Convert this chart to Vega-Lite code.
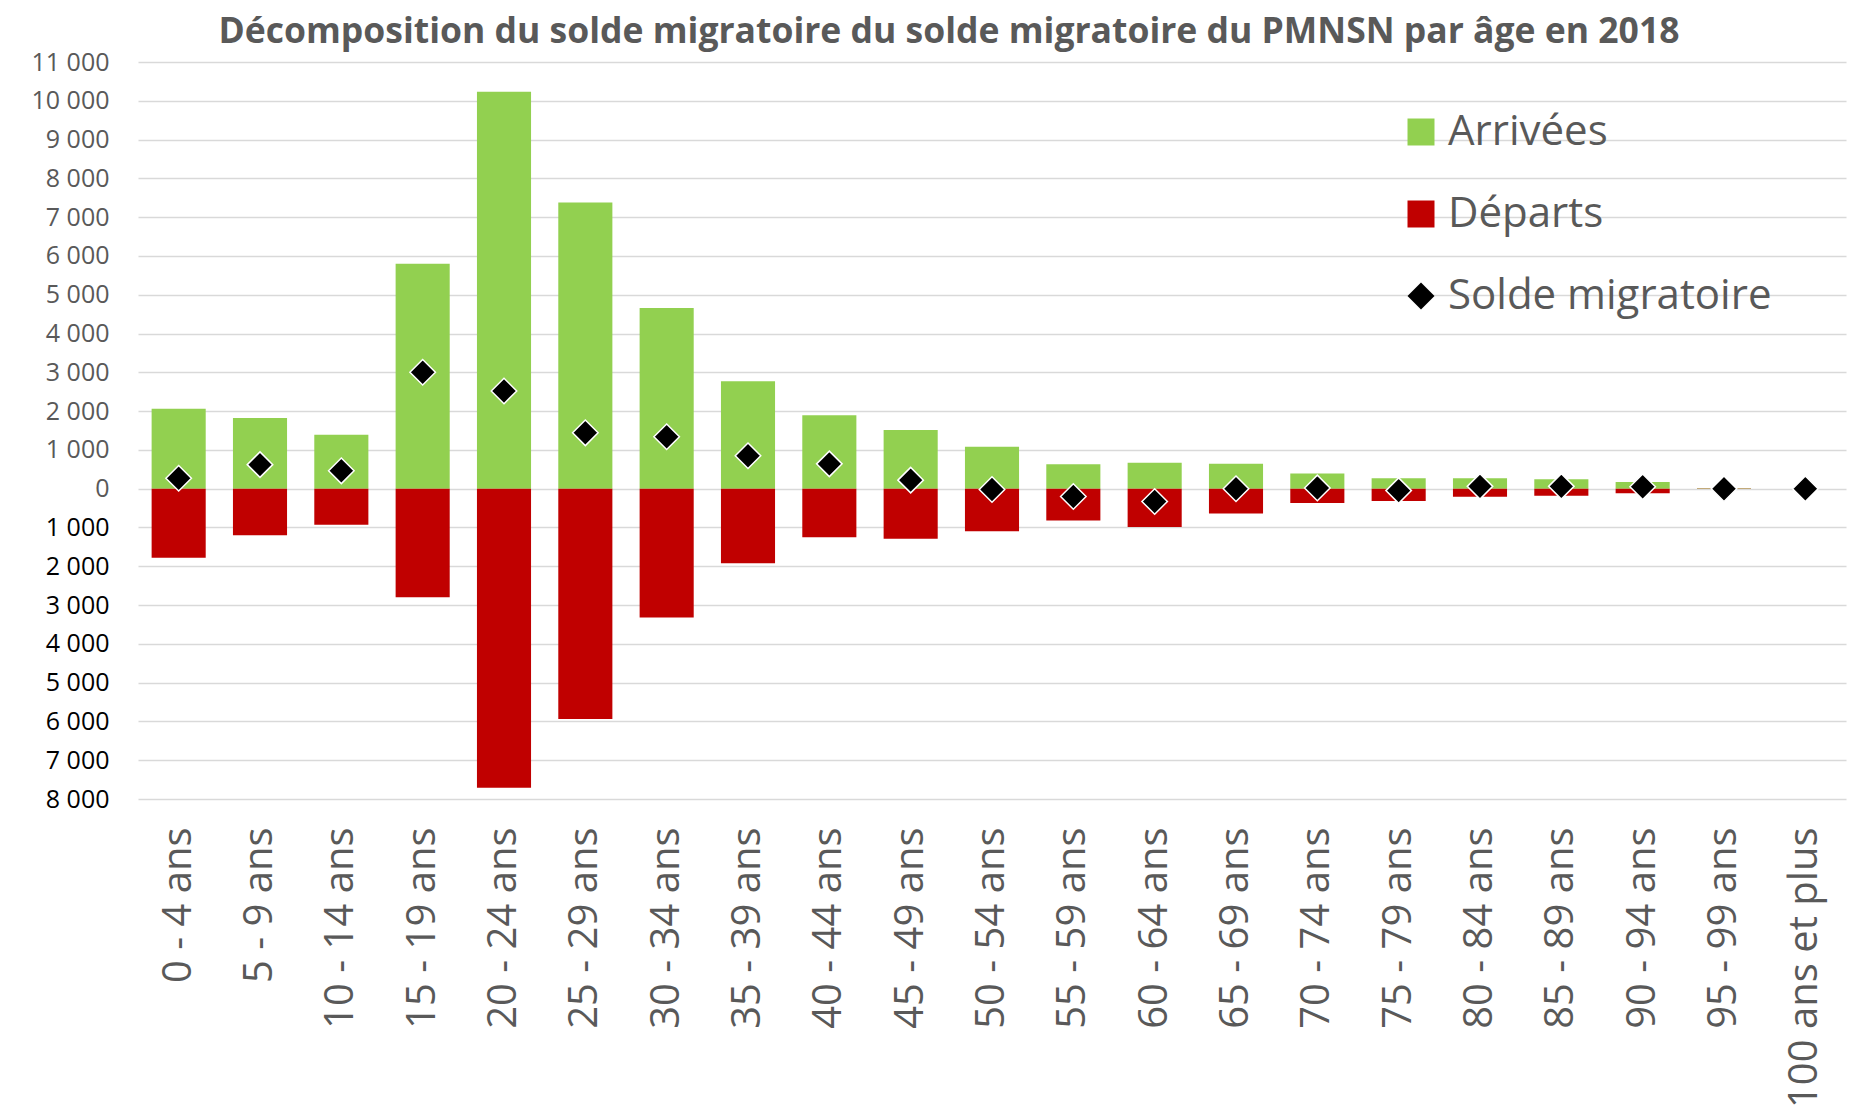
{
  "$schema": "https://vega.github.io/schema/vega-lite/v6.json",
  "autosize": {"type": "none"},
  "padding": {"left": 138, "top": 62, "right": 17, "bottom": 321},
  "width": 1708,
  "height": 737,
  "background": "white",
  "title": {
    "text": "Décomposition du solde migratoire du solde migratoire du PMNSN par âge en 2018",
    "font": "Open Sans",
    "fontSize": 35.5,
    "fontWeight": "bold",
    "color": "#595959",
    "anchor": "middle",
    "frame": "group",
    "dx": -43,
    "offset": 0
  },
  "data": {
    "values": [
      {"age": "0 - 4 ans", "Arrivées": 2060, "Départs": -1780, "solde": 270},
      {"age": "5 - 9 ans", "Arrivées": 1820, "Départs": -1200, "solde": 620},
      {"age": "10 - 14 ans", "Arrivées": 1390, "Départs": -930, "solde": 460},
      {"age": "15 - 19 ans", "Arrivées": 5800, "Départs": -2800, "solde": 3000},
      {"age": "20 - 24 ans", "Arrivées": 10230, "Départs": -7710, "solde": 2520},
      {"age": "25 - 29 ans", "Arrivées": 7380, "Départs": -5940, "solde": 1440},
      {"age": "30 - 34 ans", "Arrivées": 4660, "Départs": -3320, "solde": 1340},
      {"age": "35 - 39 ans", "Arrivées": 2770, "Départs": -1920, "solde": 850},
      {"age": "40 - 44 ans", "Arrivées": 1890, "Départs": -1250, "solde": 640},
      {"age": "45 - 49 ans", "Arrivées": 1510, "Départs": -1290, "solde": 220},
      {"age": "50 - 54 ans", "Arrivées": 1080, "Départs": -1100, "solde": -20},
      {"age": "55 - 59 ans", "Arrivées": 630, "Départs": -820, "solde": -200},
      {"age": "60 - 64 ans", "Arrivées": 670, "Départs": -990, "solde": -330},
      {"age": "65 - 69 ans", "Arrivées": 640, "Départs": -640, "solde": 0},
      {"age": "70 - 74 ans", "Arrivées": 390, "Départs": -370, "solde": 20},
      {"age": "75 - 79 ans", "Arrivées": 270, "Départs": -320, "solde": -50},
      {"age": "80 - 84 ans", "Arrivées": 270, "Départs": -210, "solde": 60},
      {"age": "85 - 89 ans", "Arrivées": 240, "Départs": -180, "solde": 60},
      {"age": "90 - 94 ans", "Arrivées": 170, "Départs": -120, "solde": 50},
      {"age": "95 - 99 ans", "Arrivées": 10, "Départs": -10, "solde": 0},
      {"age": "100 ans et plus", "Arrivées": 0, "Départs": 0, "solde": 0}
    ]
  },
  "encoding": {
    "x": {
      "field": "age",
      "type": "nominal",
      "sort": null,
      "scale": {"paddingInner": 0.335, "paddingOuter": 0.1675},
      "axis": {
        "title": null,
        "labelAngle": -90,
        "labelFont": "Open Sans",
        "labelFontSize": 40,
        "labelColor": "#595959",
        "labelPadding": 28,
        "labelLimit": 500,
        "ticks": false,
        "domain": false,
        "grid": false
      }
    },
    "y": {
      "field": "valeur",
      "type": "quantitative",
      "stack": null,
      "scale": {"domain": [-8000, 11000], "nice": false, "zero": true},
      "axis": {
        "title": null,
        "values": [-8000, -7000, -6000, -5000, -4000, -3000, -2000, -1000, 0, 1000, 2000, 3000, 4000, 5000, 6000, 7000, 8000, 9000, 10000, 11000],
        "tickCount": 40,
        "labelExpr": "replace(format(abs(datum.value), ',d'), ',', ' ')",
        "labelFont": "Open Sans",
        "labelFontSize": 25,
        "labelOverlap": false,
        "labelColor": {"condition": {"test": "datum.value < 0", "value": "#000000"}, "value": "#595959"},
        "labelPadding": 29,
        "ticks": false,
        "domain": false,
        "grid": true,
        "gridColor": "#D9D9D9",
        "gridWidth": 1.5
      }
    }
  },
  "layer": [
    {
      "transform": [
        {"fold": ["Arrivées", "Départs"], "as": ["serie", "valeur"]}
      ],
      "mark": {"type": "bar", "strokeWidth": 0},
      "encoding": {
        "color": {
          "field": "serie",
          "type": "nominal",
          "scale": {"domain": ["Arrivées", "Départs", "Solde migratoire"], "range": ["#92D050", "#C00000", "#000000"]},
          "legend": {"title": null}
        }
      }
    },
    {
      "transform": [
        {"fold": ["solde"], "as": ["cle", "valeur"]},
        {"calculate": "'Solde migratoire'", "as": "serie"}
      ],
      "mark": {"type": "point", "filled": true, "size": 650, "stroke": "#FFFFFF", "strokeWidth": 1.5, "opacity": 1},
      "encoding": {
        "color": {"field": "serie", "type": "nominal"},
        "shape": {
          "field": "serie",
          "type": "nominal",
          "scale": {"domain": ["Arrivées", "Départs", "Solde migratoire"], "range": ["square", "square", "diamond"]},
          "legend": {"title": null}
        }
      }
    }
  ],
  "config": {
    "view": {"stroke": null},
    "legend": {
      "orient": "none",
      "legendX": 1262,
      "legendY": 49,
      "padding": 0,
      "labelFont": "Open Sans",
      "labelFontSize": 42,
      "labelColor": "#595959",
      "labelOffset": 6,
      "symbolSize": 729,
      "symbolStrokeWidth": 0,
      "symbolOpacity": 1,
      "rowPadding": 40,
      "labelLimit": 600
    }
  }
}
